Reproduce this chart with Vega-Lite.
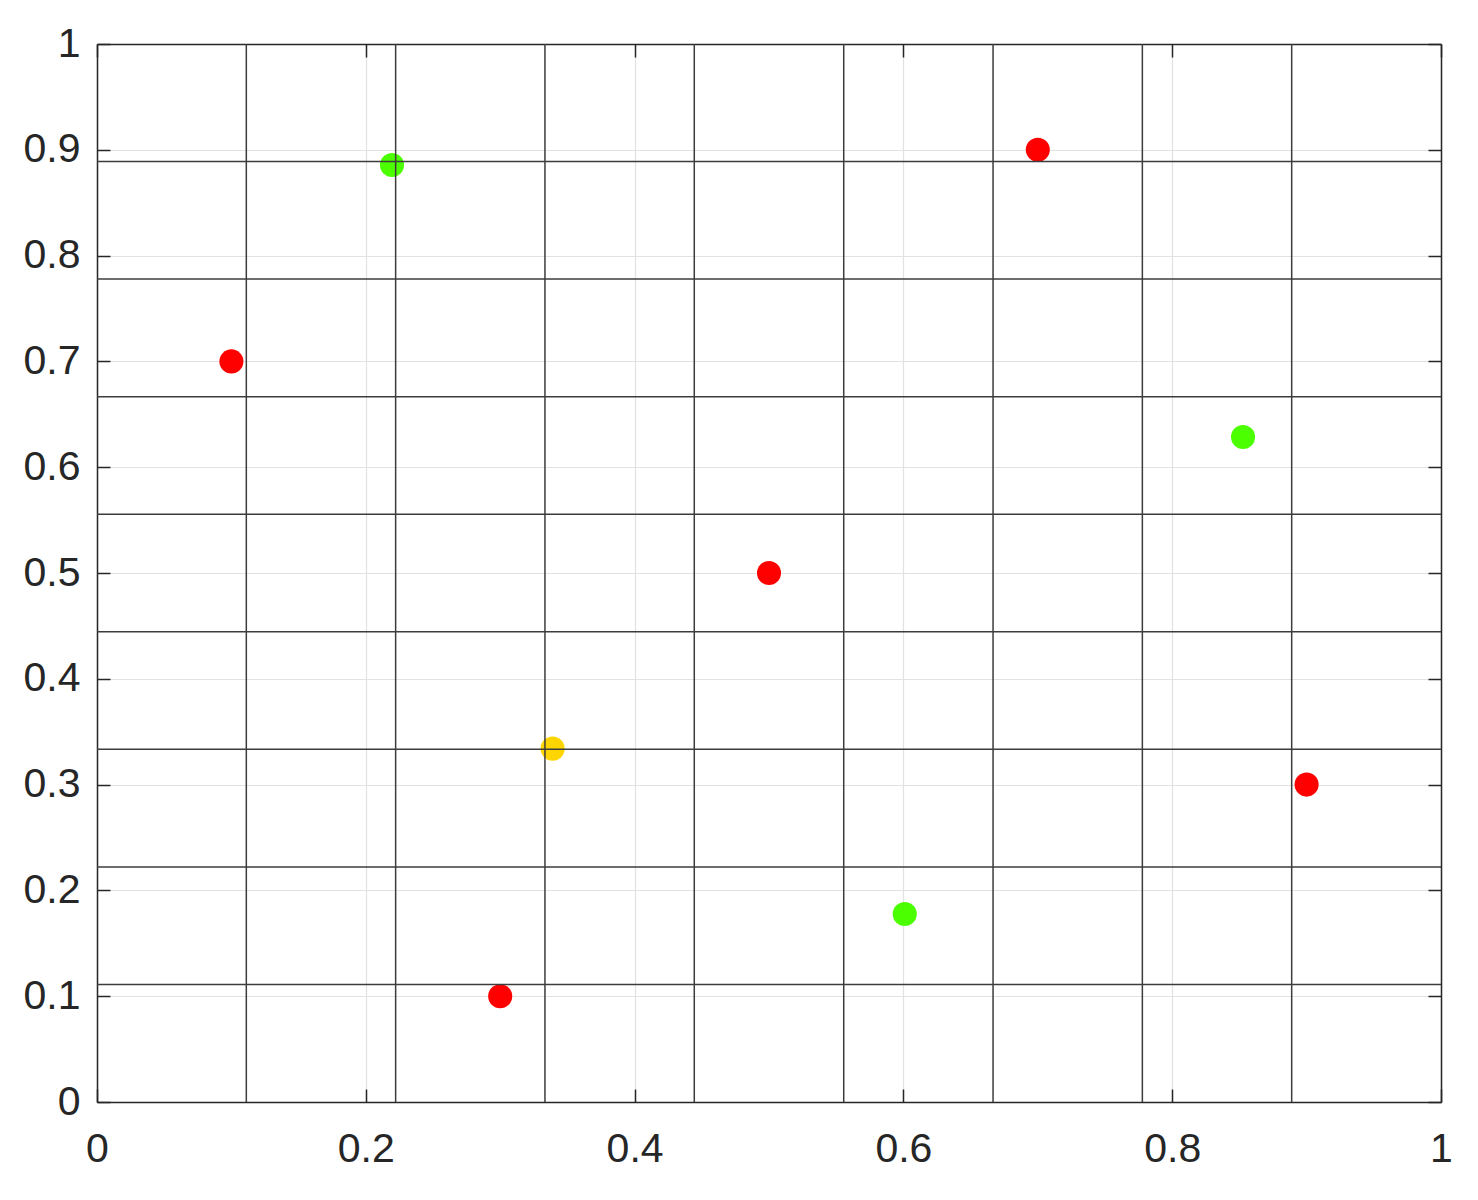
{
  "$schema": "https://vega.github.io/schema/vega-lite/v6.json",
  "width": 1344,
  "height": 1058,
  "autosize": {"type": "none"},
  "padding": {"left": 97, "top": 44, "right": 37, "bottom": 98},
  "background": "white",
  "config": {
    "view": {"stroke": null},
    "axis": {
      "labelFont": "Liberation Sans",
      "labelFontSize": 41,
      "labelColor": "#262626",
      "labelFlush": false,
      "labelOverlap": false,
      "domainColor": "#262626",
      "domainWidth": 1.5,
      "tickColor": "#262626",
      "tickWidth": 1.5,
      "tickSize": -13,
      "gridColor": "#e2e2e2",
      "gridWidth": 1.2,
      "title": null
    }
  },
  "datasets": {
    "points": [
      {"x": 0.1, "y": 0.7, "c": "red"},
      {"x": 0.3, "y": 0.1, "c": "red"},
      {"x": 0.5, "y": 0.5, "c": "red"},
      {"x": 0.7, "y": 0.9, "c": "red"},
      {"x": 0.9, "y": 0.3, "c": "red"},
      {"x": 0.2195, "y": 0.8856, "c": "green"},
      {"x": 0.8527, "y": 0.6285, "c": "green"},
      {"x": 0.601, "y": 0.1777, "c": "green"},
      {"x": 0.339, "y": 0.334, "c": "yellow"}
    ],
    "lines": [
      {"v": 0.1111},
      {"v": 0.2222},
      {"v": 0.3333},
      {"v": 0.4444},
      {"v": 0.5556},
      {"v": 0.6667},
      {"v": 0.7778},
      {"v": 0.8889}
    ]
  },
  "layer": [
    {
      "data": {"name": "points"},
      "mark": {"type": "circle", "size": 580, "opacity": 1},
      "encoding": {
        "x": {
          "field": "x", "type": "quantitative",
          "scale": {"domain": [0, 1], "nice": false, "zero": false},
          "axis": {"orient": "bottom", "values": [0, 0.2, 0.4, 0.6, 0.8, 1], "format": "~g", "grid": true, "labelPadding": 40}
        },
        "y": {
          "field": "y", "type": "quantitative",
          "scale": {"domain": [0, 1], "nice": false, "zero": false},
          "axis": {"orient": "left", "values": [0, 0.1, 0.2, 0.3, 0.4, 0.5, 0.6, 0.7, 0.8, 0.9, 1], "format": "~g", "grid": true, "labelPadding": 30}
        },
        "color": {
          "field": "c", "type": "nominal",
          "scale": {"domain": ["red", "green", "yellow"], "range": ["#ff0000", "#4cff00", "#ffd500"]},
          "legend": null
        }
      }
    },
    {
      "data": {"name": "lines"},
      "mark": {"type": "rule", "color": "#3c3c3c", "strokeWidth": 1.5},
      "encoding": {
        "x": {"field": "v", "type": "quantitative", "axis": null}
      }
    },
    {
      "data": {"name": "lines"},
      "mark": {"type": "rule", "color": "#3c3c3c", "strokeWidth": 1.5},
      "encoding": {
        "y": {"field": "v", "type": "quantitative", "axis": null}
      }
    },
    {
      "data": {"name": "points"},
      "mark": {"type": "point", "opacity": 0},
      "encoding": {
        "x": {
          "field": "x", "type": "quantitative",
          "axis": {"orient": "top", "values": [0, 0.2, 0.4, 0.6, 0.8, 1], "labels": false, "grid": false}
        },
        "y": {
          "field": "y", "type": "quantitative",
          "axis": {"orient": "right", "values": [0, 0.1, 0.2, 0.3, 0.4, 0.5, 0.6, 0.7, 0.8, 0.9, 1], "labels": false, "grid": false}
        }
      }
    }
  ],
  "resolve": {"axis": {"x": "independent", "y": "independent"}}
}
